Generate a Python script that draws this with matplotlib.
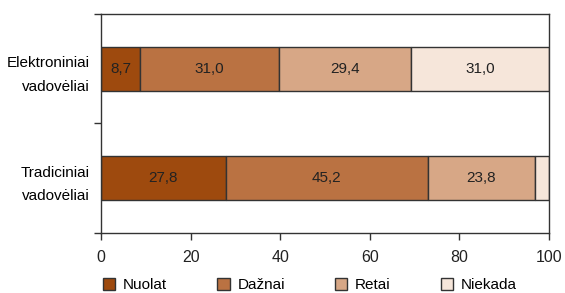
import matplotlib.pyplot as plt
from matplotlib.patches import Patch

plt.rcParams['font.family'] = ['Liberation Sans', 'DejaVu Sans']

categories = ['Elektroniniai\nvadovėliai', 'Tradiciniai\nvadovėliai']
series = ['Nuolat', 'Dažnai', 'Retai', 'Niekada']
values = [
    [8.7, 27.8],
    [31.0, 45.2],
    [29.4, 23.8],
    [31.0, 3.2],
]
labels = [
    ['8,7', '27,8'],
    ['31,0', '45,2'],
    ['29,4', '23,8'],
    ['31,0', ''],
]
colors = ['#9e4a0e', '#ba7242', '#d7a786', '#f6e6da']
edge = '#333333'

fig = plt.figure(figsize=(5.65, 2.93), dpi=100)
ax = fig.add_axes([0.1788, 0.2048, 0.7929, 0.7474])

pos = list(range(len(categories)))
left = [0.0] * len(categories)
for vals, labs, c in zip(values, labels, colors):
    bars = ax.barh(pos, vals, left=left, height=0.4, color=c,
                   edgecolor=edge, linewidth=1.0)
    for b, lab in zip(bars, labs):
        if lab:
            ax.text(b.get_x() + b.get_width() / 2, b.get_y() + b.get_height() / 2,
                    lab, ha='center', va='center', fontsize=11, color='#222222')
    left = [l + v for l, v in zip(left, vals)]

ax.set_xlim(0, 100)
ax.set_ylim(1.5, -0.5)
ax.set_xticks([0, 20, 40, 60, 80, 100])
ax.set_yticks([-0.5, 0.5, 1.5])
ax.set_yticklabels([])
ax.set_yticks(pos, minor=True)
ax.set_yticklabels(categories, minor=True, fontsize=11, linespacing=1.85)
ax.tick_params(axis='y', which='minor', length=0, pad=8)
ax.tick_params(axis='both', which='major', length=5, width=1.0,
               color=edge, labelsize=11.5, labelcolor='#222222')
ax.tick_params(axis='x', pad=7)
for s in ax.spines.values():
    s.set_color(edge)
    s.set_linewidth(1.0)

handles = [Patch(facecolor=c, edgecolor=edge, linewidth=1.0) for c in colors]
fig.legend(handles, series, loc='center left', bbox_to_anchor=(0.1823, 0.026),
           ncol=4, frameon=False, fontsize=11, handlelength=0.8,
           handleheight=0.8, handletextpad=0.5, columnspacing=3.3,
           borderpad=0, borderaxespad=0)

fig.savefig('out.png', dpi=100)
